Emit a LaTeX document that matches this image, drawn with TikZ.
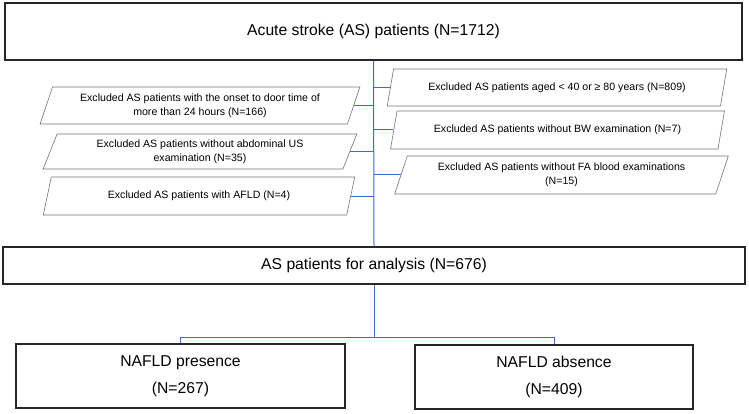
\documentclass[tikz,border=0pt]{standalone}
\usepackage{fontspec}
\setmainfont{Liberation Sans}
\usetikzlibrary{shapes, calc, positioning}
\definecolor{linkblue}{HTML}{3D6CCB}
\tikzset{
  mainbox/.style={draw=black!85, line width=1.5pt, minimum height=37pt, align=center,
    font=\fontsize{15.7}{27}\selectfont},
  exclbox/.style={draw=black!55, line width=0.6pt, trapezium, trapezium left angle=70,
    trapezium right angle=110, trapezium stretches=true, minimum height=37pt, inner sep=2pt,
    align=center, font=\fontsize{10.6}{14.3}\selectfont},
  link/.style={draw=linkblue, line width=1pt}
}

\begin{document}
\begin{tikzpicture}[x=1pt, y=-1pt]
 \useasboundingbox (0,0) rectangle (749,414);
 \node[mainbox, minimum width=737pt, minimum height=57pt] (total) at (373.5,31.5) {Acute stroke (AS) patients (N=1712)};
 \node[mainbox, minimum width=742pt] (analysis) at (374,265.5) {AS patients for analysis (N=676)};
 \node[mainbox, minimum width=329pt, minimum height=64pt] (presence) at (180.5,376) {NAFLD presence\\(N=267)};
 \node[mainbox, minimum width=278pt, minimum height=64pt] (absence) at (554,377) {NAFLD absence\\(N=409)};

 \node[exclbox, minimum width=321pt] (onset) at (200,105.5) {Excluded AS patients with the onset to door time of\\more than 24 hours (N=166)};
 \node[exclbox, minimum width=314pt, minimum height=35pt] (noUS) at (200,151.5) {Excluded AS patients without abdominal US\\examination (N=35)};
 \node[exclbox, minimum width=312pt, minimum height=38pt] (afld) at (199,196) {Excluded AS patients with AFLD (N=4)};
 \node[exclbox, minimum width=340pt] (aged) at (557,87.5) {Excluded AS patients aged < 40 or ≥ 80 years (N=809)};
 \node[exclbox, minimum width=335pt, minimum height=38pt] (noBW) at (557.5,130) {Excluded AS patients without BW examination (N=7)};
 \node[exclbox, minimum width=335pt, minimum height=38pt] (noFA) at (561.5,175) {Excluded AS patients without FA blood examinations\\(N=15)};

 \coordinate (split) at ($(analysis.south)+(0,53)$);
 \draw[link] (total.south) -- (analysis.north);
 \foreach \excl in {onset, noUS, afld}
  \draw[link] (\excl.east) -- (\excl.east -| total.south);
 \foreach \excl in {aged, noBW, noFA}
  \draw[link] (\excl.west -| total.south) -- (\excl.west);
 \draw[link] (analysis.south) -- (split);
 \draw[link] (presence.north) |- (split) -| (absence.north);
\end{tikzpicture}
\end{document}
